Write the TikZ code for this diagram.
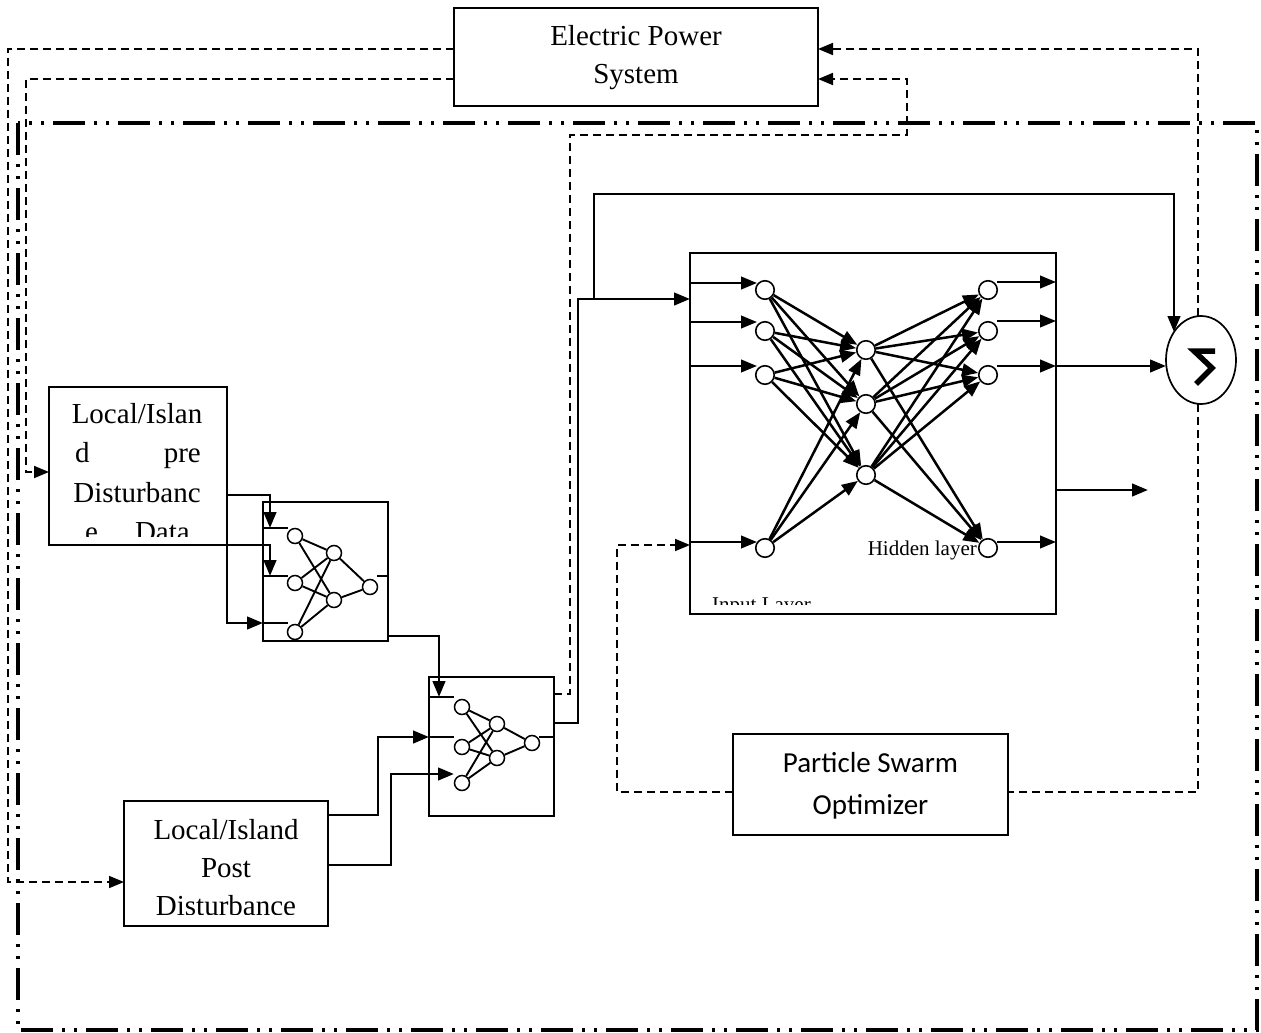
\documentclass[tikz,border=0pt]{standalone}
\usepackage{fontspec}
\setmainfont{Liberation Serif}
\newfontfamily\psofont{Carlito}
\usetikzlibrary{arrows.meta,shapes.geometric}
\newcommand\mybigtext{\fontsize{29}{36}\selectfont}
\newcommand\mysmalltext{\fontsize{21}{25}\selectfont}
\begin{document}
\begin{tikzpicture}[x=1pt,y=-1pt,
  >={Triangle[length=16pt,width=12.5pt]},
  box/.style={draw,line width=2.1pt,inner sep=0pt,outer sep=0pt},
  conn/.style={line width=2.8pt},
  dsh/.style={line width=1.7pt,dash pattern=on 8pt off 5pt,arrows={->[length=15pt,width=12pt]}},
  frm/.style={line width=3.8pt,dash pattern=on 32pt off 9pt on 3pt off 9pt on 3pt off 9pt},
  neu/.style={circle,draw,line width=1.6pt,minimum size=18.5pt,inner sep=0pt},
  sneu/.style={circle,draw,line width=1.5pt,minimum size=15pt,inner sep=0pt},
  nnedge/.style={line width=2.5pt},
  sedge/.style={line width=1.9pt},
  txt/.style={font=\mybigtext,inner sep=0pt},
  stxt/.style={font=\mysmalltext,inner sep=0pt}]
\useasboundingbox (0,0) rectangle (1261,1033);
\fill[white] (0,0) rectangle (1261,1033);

% outer dash-dot frame
\draw[frm] (18,123) rectangle (1257,1030);

% Electric Power System
\node[box,minimum width=364pt,minimum height=98pt] (eps) at (636,57) {};
\node[txt,anchor=base] (epsA) at (636,46) {Electric Power};
\node[txt,anchor=base] (epsB) at (636,83) {System};

% pre disturbance box
\node[box,minimum width=178pt,minimum height=158pt] (pre) at (138,466) {};
\begin{scope}
\clip (50,388) rectangle (226,536);
\node[txt,anchor=base] (preA) at (137,423) {Local/Islan};
\node[txt,anchor=base west] (preB) at (75,462) {d};
\node[txt,anchor=base east] (preC) at (201,462) {pre};
\node[txt,anchor=base] (preD) at (137,502) {Disturbanc};
\node[txt,anchor=base west] (preE) at (85,541) {e};
\node[txt,anchor=base east] (preF) at (190,541) {Data};
\end{scope}

% post disturbance box
\node[box,minimum width=204pt,minimum height=125pt] (post) at (226,863.5) {};
\begin{scope}
\clip (125,802) rectangle (327,914);
\node[txt,anchor=base] (postA) at (226,839) {Local/Island};
\node[txt,anchor=base] (postB) at (226,877) {Post};
\node[txt,anchor=base] (postC) at (226,915) {Disturbance};
\end{scope}

% PSO
\node[box,minimum width=275pt,minimum height=101pt] (pso) at (870.5,784.5) {};
\node[txt,font=\psofont\mybigtext,anchor=base] (psoA) at (870.5,772) {Particle Swarm};
\node[txt,font=\psofont\mybigtext,anchor=base] (psoB) at (870.5,814) {Optimizer};

% big NN box
\node[box,minimum width=366pt,minimum height=361pt] (big) at (873,433.5) {};
\node[neu] (a1) at (765,290) {};
\node[neu] (a2) at (765,331) {};
\node[neu] (a3) at (765,375) {};
\node[neu] (a4) at (765,548) {};
\node[neu] (h1) at (866,350) {};
\node[neu] (h2) at (866,404) {};
\node[neu] (h3) at (866,475) {};
\node[neu] (o1) at (988,290) {};
\node[neu] (o2) at (988,331) {};
\node[neu] (o3) at (988,375) {};
\node[neu] (o4) at (988,548) {};
\foreach \i in {a1,a2,a3,a4}
  \foreach \j in {h1,h2,h3}
    \draw[nnedge,->] (\i) -- (\j);
\foreach \i in {h1,h2,h3}
  \foreach \j in {o1,o2,o3,o4}
    \draw[nnedge,->] (\i) -- (\j);
\foreach \y in {283,322,366,542}
  \draw[nnedge,->] (690,\y) -- (757,\y);
\foreach \y in {282,321,366,542}
  \draw[nnedge,->] (997,\y) -- (1056,\y);
\node[stxt,anchor=base east] (hid) at (977,555) {Hidden layer};
\begin{scope}
\clip (692,590) rectangle (1000,604);
\node[stxt,anchor=base west] (inl) at (712,611) {Input Layer};
\end{scope}

% summation
\node[ellipse,draw,line width=1.7pt,minimum width=70pt,minimum height=88pt,inner sep=0pt] (sig) at (1201,360) {};
\draw[line width=5.5pt] (1215,351) -- (1194,351) -- (1212,368) -- (1196,384);

% small NN 1
\node[box,minimum width=125pt,minimum height=139pt] (nn1) at (325.5,571.5) {};
\node[sneu] (p1) at (295,536) {};
\node[sneu] (p2) at (295,583) {};
\node[sneu] (p3) at (295,632) {};
\node[sneu] (q1) at (334,553) {};
\node[sneu] (q2) at (334,600) {};
\node[sneu] (r1) at (370,587) {};
\foreach \i in {p1,p2,p3}
  \foreach \j in {q1,q2}
    \draw[sedge] (\i) -- (\j);
\draw[sedge] (q1) -- (r1);
\draw[sedge] (q2) -- (r1);
\draw[sedge] (263,528) -- (288,528);
\draw[sedge] (263,576) -- (288,576);
\draw[sedge] (263,623) -- (288,623);
\draw[sedge] (377,576) -- (388,576);

% small NN 2
\node[box,minimum width=125pt,minimum height=139pt] (nn2) at (491.5,746.5) {};
\node[sneu] (s1) at (462,707) {};
\node[sneu] (s2) at (462,747) {};
\node[sneu] (s3) at (462,783) {};
\node[sneu] (t1) at (497,724) {};
\node[sneu] (t2) at (497,758) {};
\node[sneu] (u1) at (532,743) {};
\foreach \i in {s1,s2,s3}
  \foreach \j in {t1,t2}
    \draw[sedge] (\i) -- (\j);
\draw[sedge] (t1) -- (u1);
\draw[sedge] (t2) -- (u1);
\draw[sedge] (429,697) -- (454,697);
\draw[sedge] (429,737) -- (454,737);
\draw[sedge] (539,737) -- (554,737);

% solid connectors
\draw[conn,->] (228,495) -- (270,495) -- (270,528);
\draw[conn,->] (190,545) -- (270,545) -- (270,576);
\draw[conn,->] (227,463) -- (227,623) -- (263,623);
\draw[conn,->] (388,636) -- (439,636) -- (439,697);
\draw[conn,->] (328,815) -- (378,815) -- (378,737) -- (429,737);
\draw[conn,->] (328,865) -- (391,865) -- (391,774) -- (454,774);
\draw[conn,->] (554,723) -- (578,723) -- (578,299) -- (690,299);
\draw[conn,->] (594,299) -- (594,194) -- (1174,194) -- (1174,332);
\draw[conn,->] (1056,366) -- (1166,366);
\draw[conn,->] (1056,490) -- (1148,490);

% dashed connectors
\draw[dsh] (454,49) -- (8,49) -- (8,882) -- (124,882);
\draw[dsh] (454,79) -- (26,79) -- (26,472) -- (49,472);
\draw[dsh] (554,694) -- (570,694) -- (570,135) -- (907,135) -- (907,79) -- (818,79);
\draw[dsh] (1198,316) -- (1198,49) -- (818,49);
\draw[dsh,arrows=-] (1198,404) -- (1198,792) -- (1008,792);
\draw[dsh] (733,792) -- (617,792) -- (617,545) -- (690,545);
\end{tikzpicture}
\end{document}
